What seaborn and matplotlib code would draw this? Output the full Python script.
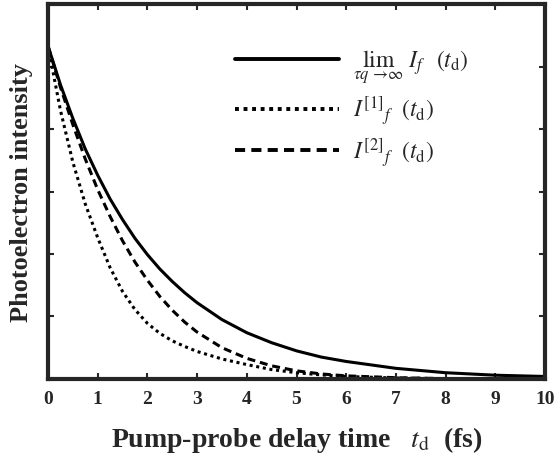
import numpy as np
import pandas as pd
import matplotlib
matplotlib.use("Agg")
import matplotlib.pyplot as plt
import seaborn as sns

# values (y axis runs 0..6, no labels)
t = [0, 0.25, 0.5, 0.75, 1, 1.25, 1.5, 1.75, 2, 2.25, 2.5, 2.75, 3, 3.5, 4,
     4.5, 5, 5.5, 6, 7, 8, 9, 10]
lim_curve = [5.33, 4.71, 4.17, 3.68, 3.26, 2.88, 2.55, 2.25, 1.99, 1.76, 1.56,
             1.38, 1.22, 0.95, 0.74, 0.58, 0.45, 0.35, 0.28, 0.17, 0.10, 0.06, 0.04]
first_order = [5.33, 4.30, 3.47, 2.80, 2.26, 1.78, 1.40, 1.11, 0.89, 0.73, 0.61,
               0.52, 0.44, 0.32, 0.23, 0.15, 0.10, 0.065, 0.04, 0.015, 0.005, 0.0, 0.0]
second_order = [5.33, 4.67, 4.07, 3.52, 3.03, 2.60, 2.21, 1.87, 1.58, 1.32, 1.10,
                0.91, 0.75, 0.50, 0.33, 0.21, 0.13, 0.08, 0.05, 0.02, 0.005, 0.0, 0.0]

labels = [r"$\lim_{\tau q\ \to\infty}\ I_f\ \ (t_\mathrm{d})$",
          r"$I^{[1]}{}_f\ \ (t_\mathrm{d})$",
          r"$I^{[2]}{}_f\ \ (t_\mathrm{d})$"]
xticks = list(range(0, 11))

df = pd.concat([
    pd.DataFrame({"t": t, "v": lim_curve, "curve": labels[0]}),
    pd.DataFrame({"t": t, "v": first_order, "curve": labels[1]}),
    pd.DataFrame({"t": t, "v": second_order, "curve": labels[2]}),
])

sns.set_style("ticks")
plt.rcParams["font.family"] = ["Liberation Serif", "DejaVu Serif"]
plt.rcParams["mathtext.fontset"] = "stix"

fig = plt.figure(figsize=(5.55, 4.6), dpi=100)
ax = fig.add_axes([0.0865, 0.174, 0.8955, 0.815])

sns.lineplot(data=df, x="t", y="v", style="curve", style_order=labels,
             dashes=["", (1.0, 1.2), (2.6, 1.6)], color="black",
             linewidth=2.2, ax=ax, legend=True)

ax.set_xlim(0, 10)
ax.set_ylim(0, 6)
ax.set_xticks(xticks)
ax.set_xticklabels([str(x) for x in xticks], fontweight="bold", fontsize=14)
ax.set_yticks([1, 2, 3, 4, 5])
ax.set_yticklabels([])
ax.tick_params(direction="in", length=4, width=1.5, top=True, right=True, pad=8)
for sp in ax.spines.values():
    sp.set_linewidth(3)

ax.set_xlabel(r"Pump-probe delay time   $t_\mathrm{d}$  (fs)", fontsize=20,
              fontweight="bold", labelpad=12)
ax.set_ylabel("Photoelectron intensity", fontsize=19, fontweight="bold", labelpad=3)

leg = ax.legend(frameon=False, loc="upper right", bbox_to_anchor=(0.89, 0.94),
                fontsize=17, handlelength=4.4, labelspacing=0.35, handletextpad=0.6)
for line in leg.get_lines():
    line.set_linewidth(2.8)

fig.savefig("out.png", dpi=100)
